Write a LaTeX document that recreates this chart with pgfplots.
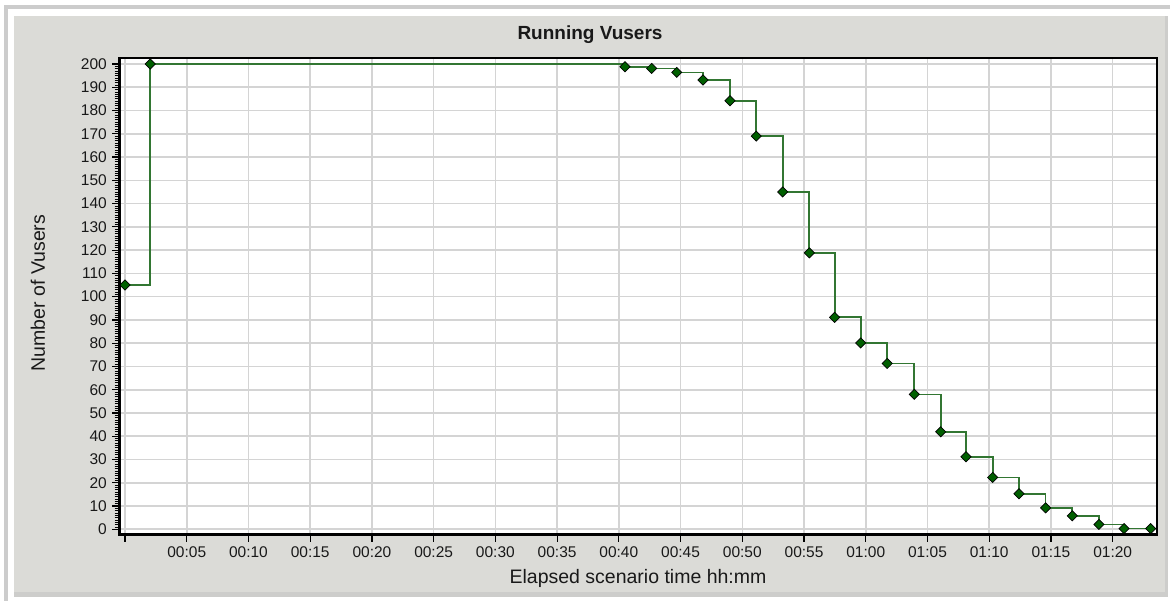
\documentclass[border=0pt]{standalone}
\usepackage{fontspec}
\setmainfont{Liberation Sans}
\usepackage{pgfplots}
\pgfplotsset{compat=1.18}
\definecolor{panel}{RGB}{219,219,215}
\definecolor{framec}{RGB}{204,204,204}
\definecolor{shadowc}{RGB}{205,205,203}
\definecolor{gridc}{RGB}{212,212,212}
\definecolor{linec}{RGB}{50,118,50}
\definecolor{markc}{RGB}{0,95,0}
\definecolor{textc}{RGB}{25,25,25}

\pgfplotstableread{
t v
0 105
2.05 200
40.5 198.8
42.66 198.1
44.69 196.4
46.82 193.1
49.0 184.2
51.13 169.0
53.27 145.0
55.43 118.8
57.48 91.1
59.59 80.1
61.74 71.3
63.93 58.0
66.07 41.9
68.12 31.2
70.28 22.3
72.41 15.3
74.57 9.2
76.73 5.8
78.89 2.1
80.92 0.3
83.08 0.3
}\vusers

\begin{document}
\begin{tikzpicture}
\fill[white] (0pt,0pt) rectangle (1170pt,601pt);
\fill[framec] (4pt,0pt) rectangle (8pt,596pt);
\fill[framec] (4pt,592pt) rectangle (1170pt,596pt);
\fill[shadowc] (14pt,4pt) rectangle (1168pt,585pt);
\fill[panel] (14pt,9pt) rectangle (1165pt,585pt);
\begin{axis}[
  at={(119pt,66pt)}, anchor=south west,
  width=1038pt, height=477pt, scale only axis,
  xmin=-0.486, xmax=83.59,
  ymin=-2.45, ymax=202.58,
  axis background/.style={fill=white},
  xtick={0,5,...,80},
  xticklabels={,00:05,00:10,00:15,00:20,00:25,00:30,00:35,00:40,00:45,00:50,00:55,01:00,01:05,01:10,01:15,01:20},
  ytick={0,10,...,200},
  minor y tick num=9,
  tick align=outside,
  xtick pos=bottom, ytick pos=left,
  major tick length=7pt, minor tick length=4.5pt,
  every tick/.style={black, line width=1.2pt},
  minor tick style={black, line width=0.8pt},
  grid=major,
  major grid style={gridc, line width=1.6pt},
  axis line style={black, line width=1.6pt},
  /pgf/number format/assume math mode=true,
  ticklabel style={font=\fontsize{15.5}{18}\selectfont, text=textc},
  yticklabel style={inner sep=0pt, xshift=-5pt},
  xticklabel style={inner sep=0pt, yshift=-4pt},
  clip=false,
]
\addplot[const plot, color=linec, line width=1.7pt,
  mark=square*, mark size=3.6pt,
  mark options={rotate=45, fill=markc, draw=black, line width=0.7pt, solid}]
  table[x=t, y=v] {\vusers};
\draw[black, line width=3pt] (rel axis cs:0,0) -- (rel axis cs:0,1);
\draw[black, line width=3pt] (rel axis cs:0,0) -- (rel axis cs:1,0);
\end{axis}
\node[font=\fontsize{19}{22}\selectfont\bfseries, text=textc] at (590pt,566pt) {Running Vusers};
\node[font=\fontsize{19.5}{22}\selectfont, text=textc] at (638pt,23pt) {Elapsed scenario time hh:mm};
\node[font=\fontsize{19.5}{22}\selectfont, text=textc, rotate=90] at (38pt,308pt) {Number of Vusers};
\end{tikzpicture}
\end{document}
